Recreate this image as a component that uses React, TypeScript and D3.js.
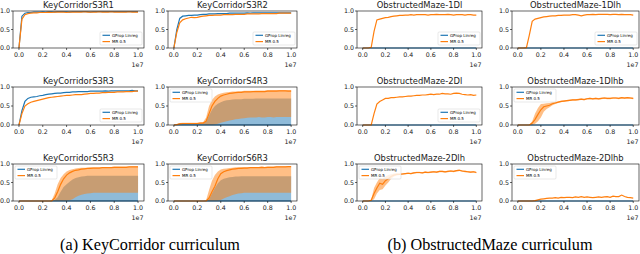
import React from 'react';
import * as d3 from 'd3';

// training steps, in units of 1e7
const steps = [0, 0.025, 0.05, 0.075, 0.1, 0.125, 0.15, 0.175, 0.2, 0.225, 0.25, 0.275, 0.3, 0.325, 0.35, 0.375, 0.4, 0.425, 0.45, 0.475, 0.5, 0.525, 0.55, 0.575, 0.6, 0.625, 0.65, 0.675, 0.7, 0.725, 0.75, 0.775, 0.8, 0.825, 0.85, 0.875, 0.9, 0.925, 0.95, 0.975, 1.0];
const xTicks = [0, 0.2, 0.4, 0.6, 0.8, 1.0];
const yTicks = [0, 0.5, 1.0];
const seriesNames = ['GProp Linreg', 'MR 0.5'];

const flatBlue = [0,0,0,0,0,0,0,0,0,0, 0,0,0,0,0,0,0,0,0,0, 0,0,0,0,0,0,0,0,0,0, 0,0,0,0,0,0,0,0,0,0, 0];

const s3r1Blue = [0, 0.86, 0.94, 0.96, 0.96, 0.97, 0.97, 0.97, 0.98, 0.97, 0.98, 0.98, 0.97, 0.98, 0.98, 0.98, 0.98, 0.97, 0.98, 0.98, 0.98, 0.98, 0.98, 0.98, 0.97, 0.98, 0.98, 0.98, 0.98, 0.98, 0.98, 0.98, 0.98, 0.98, 0.98, 0.98, 0.98, 0.98, 0.98, 0.98, 0.98];
const s3r1Orange = [0, 0.78, 0.9, 0.93, 0.94, 0.95, 0.95, 0.96, 0.96, 0.96, 0.97, 0.96, 0.97, 0.97, 0.97, 0.97, 0.96, 0.97, 0.97, 0.97, 0.97, 0.97, 0.98, 0.97, 0.97, 0.97, 0.97, 0.98, 0.97, 0.97, 0.97, 0.98, 0.97, 0.97, 0.97, 0.97, 0.97, 0.98, 0.97, 0.97, 0.97];

const s3r2Blue = [0, 0.5, 0.8, 0.86, 0.87, 0.88, 0.88, 0.89, 0.89, 0.9, 0.91, 0.91, 0.92, 0.92, 0.92, 0.93, 0.93, 0.93, 0.93, 0.94, 0.94, 0.94, 0.94, 0.94, 0.94, 0.95, 0.94, 0.95, 0.95, 0.95, 0.95, 0.95, 0.95, 0.95, 0.95, 0.95, 0.95, 0.95, 0.95, 0.95, 0.95];
const s3r2Orange = [0, 0.42, 0.68, 0.76, 0.79, 0.81, 0.83, 0.82, 0.83, 0.85, 0.86, 0.87, 0.88, 0.88, 0.89, 0.89, 0.89, 0.9, 0.9, 0.9, 0.9, 0.91, 0.91, 0.91, 0.91, 0.92, 0.92, 0.92, 0.92, 0.92, 0.93, 0.93, 0.93, 0.93, 0.93, 0.93, 0.94, 0.94, 0.94, 0.94, 0.94];

const s3r3Blue = [0, 0.38, 0.62, 0.7, 0.73, 0.74, 0.75, 0.77, 0.78, 0.8, 0.81, 0.82, 0.83, 0.84, 0.84, 0.85, 0.86, 0.86, 0.87, 0.87, 0.88, 0.88, 0.88, 0.88, 0.89, 0.89, 0.89, 0.89, 0.89, 0.9, 0.89, 0.9, 0.9, 0.9, 0.9, 0.9, 0.9, 0.9, 0.91, 0.9, 0.9];
const s3r3Orange = [0, 0.3, 0.5, 0.56, 0.6, 0.62, 0.64, 0.66, 0.68, 0.7, 0.72, 0.73, 0.74, 0.75, 0.76, 0.77, 0.78, 0.78, 0.79, 0.8, 0.8, 0.8, 0.81, 0.82, 0.83, 0.83, 0.84, 0.84, 0.85, 0.85, 0.86, 0.86, 0.86, 0.87, 0.87, 0.87, 0.88, 0.88, 0.88, 0.89, 0.89];

const s4r3Orange = [0, 0.01, 0.03, 0.04, 0.04, 0.04, 0.04, 0.04, 0.04, 0.05, 0.05, 0.1, 0.3, 0.5, 0.62, 0.7, 0.76, 0.79, 0.81, 0.83, 0.84, 0.85, 0.86, 0.86, 0.87, 0.87, 0.87, 0.88, 0.88, 0.88, 0.88, 0.88, 0.89, 0.89, 0.89, 0.89, 0.9, 0.9, 0.9, 0.89, 0.89];
const s4r3OrangeHi = [0, 0.02, 0.05, 0.06, 0.06, 0.06, 0.06, 0.06, 0.06, 0.07, 0.08, 0.2, 0.5, 0.66, 0.75, 0.8, 0.83, 0.85, 0.86, 0.87, 0.88, 0.88, 0.89, 0.89, 0.9, 0.9, 0.9, 0.9, 0.91, 0.91, 0.91, 0.91, 0.92, 0.92, 0.92, 0.92, 0.92, 0.92, 0.92, 0.92, 0.92];
const s4r3OrangeLo = [0, 0, 0.02, 0.02, 0.02, 0.02, 0.02, 0.02, 0.02, 0.02, 0.02, 0, 0, 0, 0.01, 0.03, 0.06, 0.08, 0.1, 0.12, 0.13, 0.15, 0.16, 0.17, 0.18, 0.19, 0.2, 0.2, 0.2, 0.21, 0.2, 0.2, 0.21, 0.21, 0.2, 0.21, 0.21, 0.21, 0.21, 0.21, 0.21];
const s4r3BlueHi = [0, 0.01, 0.05, 0.05, 0.05, 0.05, 0.05, 0.05, 0.05, 0.05, 0.05, 0.1, 0.25, 0.4, 0.5, 0.56, 0.6, 0.63, 0.65, 0.66, 0.67, 0.68, 0.68, 0.68, 0.69, 0.69, 0.69, 0.69, 0.7, 0.7, 0.7, 0.7, 0.7, 0.7, 0.7, 0.7, 0.7, 0.7, 0.7, 0.7, 0.7];

const s5r3Orange = [0,0,0,0,0,0,0,0,0,0, 0, 0, 0.08, 0.25, 0.45, 0.6, 0.7, 0.76, 0.8, 0.83, 0.84, 0.86, 0.87, 0.88, 0.88, 0.89, 0.89, 0.89, 0.9, 0.9, 0.9, 0.9, 0.91, 0.91, 0.91, 0.91, 0.91, 0.92, 0.92, 0.92, 0.92];
const s5r3OrangeHi = [0,0,0,0,0,0,0,0,0,0, 0, 0.02, 0.2, 0.45, 0.62, 0.72, 0.8, 0.84, 0.86, 0.88, 0.89, 0.9, 0.9, 0.9, 0.91, 0.91, 0.91, 0.91, 0.92, 0.92, 0.92, 0.92, 0.93, 0.93, 0.93, 0.93, 0.93, 0.93, 0.94, 0.94, 0.94];
const s5r3OrangeLo = [0,0,0,0,0,0,0,0,0,0, 0,0,0,0,0,0,0, 0.02, 0.05, 0.1, 0.14, 0.17, 0.19, 0.2, 0.21, 0.22, 0.22, 0.22, 0.22, 0.22, 0.22, 0.22, 0.22, 0.22, 0.22, 0.22, 0.22, 0.22, 0.22, 0.22, 0.22];
const s5r3BlueHi = [0,0,0,0,0,0,0,0,0,0, 0, 0, 0.03, 0.1, 0.25, 0.38, 0.45, 0.52, 0.58, 0.62, 0.64, 0.66, 0.67, 0.68, 0.68, 0.68, 0.68, 0.68, 0.68, 0.68, 0.68, 0.68, 0.68, 0.68, 0.68, 0.68, 0.68, 0.68, 0.68, 0.68, 0.68];

const s6r3Orange = [0,0,0,0,0,0,0,0,0,0, 0, 0, 0.08, 0.25, 0.4, 0.6, 0.74, 0.79, 0.82, 0.84, 0.86, 0.87, 0.88, 0.88, 0.89, 0.89, 0.9, 0.9, 0.9, 0.9, 0.91, 0.9, 0.91, 0.91, 0.91, 0.92, 0.92, 0.92, 0.92, 0.93, 0.93];
const s6r3OrangeHi = [0,0,0,0,0,0,0,0,0,0, 0, 0.02, 0.3, 0.55, 0.7, 0.8, 0.85, 0.87, 0.88, 0.89, 0.9, 0.91, 0.91, 0.92, 0.92, 0.92, 0.92, 0.92, 0.92, 0.92, 0.93, 0.92, 0.93, 0.93, 0.93, 0.94, 0.94, 0.94, 0.94, 0.94, 0.94];
const s6r3OrangeLo = [0,0,0,0,0,0,0,0,0,0, 0,0,0,0,0,0, 0.03, 0.07, 0.1, 0.13, 0.16, 0.18, 0.2, 0.21, 0.22, 0.22, 0.22, 0.22, 0.22, 0.22, 0.22, 0.22, 0.22, 0.22, 0.22, 0.22, 0.22, 0.22, 0.22, 0.22, 0.22];
const s6r3BlueHi = [0,0,0,0,0,0,0,0,0,0, 0, 0, 0.05, 0.2, 0.35, 0.48, 0.56, 0.6, 0.62, 0.64, 0.65, 0.66, 0.66, 0.67, 0.67, 0.67, 0.67, 0.67, 0.67, 0.67, 0.67, 0.67, 0.67, 0.67, 0.67, 0.67, 0.67, 0.67, 0.67, 0.67, 0.67];

const om1DlOrange = [0, 0, 0, 0.02, 0.45, 0.76, 0.78, 0.8, 0.82, 0.83, 0.85, 0.86, 0.87, 0.88, 0.88, 0.89, 0.89, 0.9, 0.89, 0.9, 0.9, 0.9, 0.9, 0.89, 0.9, 0.9, 0.91, 0.9, 0.9, 0.9, 0.91, 0.9, 0.89, 0.9, 0.9, 0.9, 0.89, 0.9, 0.9, 0.89, 0.89];
const om1DlhOrange = [0, 0, 0, 0.01, 0.35, 0.72, 0.78, 0.8, 0.82, 0.84, 0.85, 0.86, 0.87, 0.87, 0.88, 0.88, 0.89, 0.89, 0.89, 0.9, 0.9, 0.89, 0.87, 0.89, 0.9, 0.9, 0.91, 0.9, 0.91, 0.91, 0.91, 0.91, 0.9, 0.91, 0.91, 0.9, 0.91, 0.9, 0.9, 0.9, 0.89];
const om2DlOrange = [0, 0, 0, 0, 0.3, 0.55, 0.62, 0.66, 0.7, 0.7, 0.72, 0.72, 0.73, 0.74, 0.74, 0.75, 0.76, 0.76, 0.77, 0.78, 0.78, 0.79, 0.79, 0.8, 0.81, 0.8, 0.81, 0.81, 0.83, 0.82, 0.82, 0.81, 0.83, 0.84, 0.83, 0.81, 0.8, 0.79, 0.8, 0.78, 0.79];
const om1DlhbOrange = [0, 0, 0, 0, 0, 0.05, 0.15, 0.28, 0.4, 0.48, 0.5, 0.52, 0.56, 0.58, 0.6, 0.62, 0.63, 0.64, 0.65, 0.66, 0.66, 0.67, 0.68, 0.67, 0.69, 0.7, 0.69, 0.7, 0.69, 0.7, 0.71, 0.7, 0.7, 0.71, 0.71, 0.7, 0.72, 0.71, 0.72, 0.71, 0.7];
const om1DlhbLo = [0, 0, 0, 0, 0, 0, 0.03, 0.1, 0.2, 0.35, 0.42, 0.47, 0.52, 0.55, 0.58, 0.6, 0.61, 0.62, 0.63, 0.64, 0.64, 0.65, 0.66, 0.65, 0.67, 0.68, 0.67, 0.68, 0.67, 0.68, 0.69, 0.68, 0.68, 0.69, 0.69, 0.68, 0.7, 0.69, 0.7, 0.69, 0.68];
const om1DlhbHi = [0, 0, 0, 0, 0, 0.1, 0.3, 0.45, 0.55, 0.56, 0.57, 0.58, 0.6, 0.61, 0.62, 0.64, 0.65, 0.66, 0.67, 0.68, 0.68, 0.69, 0.7, 0.69, 0.71, 0.72, 0.71, 0.72, 0.71, 0.72, 0.73, 0.72, 0.72, 0.73, 0.73, 0.72, 0.74, 0.73, 0.74, 0.73, 0.72];
const om2DlhOrange = [0, 0, 0, 0.02, 0.2, 0.35, 0.48, 0.45, 0.55, 0.6, 0.66, 0.7, 0.72, 0.72, 0.73, 0.74, 0.75, 0.74, 0.76, 0.77, 0.77, 0.76, 0.78, 0.77, 0.78, 0.79, 0.78, 0.8, 0.8, 0.79, 0.8, 0.81, 0.8, 0.82, 0.83, 0.81, 0.8, 0.79, 0.78, 0.79, 0.77];
const om2DlhLo = [0, 0, 0, 0, 0.05, 0.2, 0.3, 0.32, 0.42, 0.5, 0.6, 0.66, 0.69, 0.7, 0.71, 0.72, 0.73, 0.72, 0.74, 0.75, 0.75, 0.74, 0.76, 0.75, 0.76, 0.77, 0.76, 0.78, 0.78, 0.77, 0.78, 0.79, 0.78, 0.8, 0.81, 0.79, 0.78, 0.77, 0.76, 0.77, 0.75];
const om2DlhHi = [0, 0, 0, 0.04, 0.35, 0.5, 0.62, 0.6, 0.66, 0.7, 0.72, 0.74, 0.75, 0.74, 0.75, 0.76, 0.77, 0.76, 0.78, 0.79, 0.79, 0.78, 0.8, 0.79, 0.8, 0.81, 0.8, 0.82, 0.82, 0.81, 0.82, 0.83, 0.82, 0.84, 0.85, 0.83, 0.82, 0.81, 0.8, 0.81, 0.79];
const om2DlhbOrange = [0, 0, 0, 0, 0, 0, 0.01, 0.03, 0.05, 0.06, 0.07, 0.08, 0.08, 0.09, 0.08, 0.1, 0.09, 0.1, 0.1, 0.09, 0.11, 0.1, 0.12, 0.1, 0.11, 0.1, 0.09, 0.1, 0.11, 0.1, 0.11, 0.12, 0.1, 0.13, 0.12, 0.12, 0.16, 0.12, 0.1, 0.09, 0.08];

const BLUE = '#1f77b4';
const ORANGE = '#ff7f0e';
const COLS = [{ x0: 13, x1: 144 }, { x0: 168, x1: 297 }, { x0: 357, x1: 482 }, { x0: 512, x1: 639 }];
const ROWS = [{ y0: 11, y1: 48 }, { y0: 87, y1: 125 }, { y0: 164, y1: 201 }];

type Band = { lo: number[]; hi: number[]; color: string };
type P = { title: string; col: number; row: number; blue: number[]; orange: number[]; bands: Band[]; legend: 'lr' | 'ul' };

const panels: P[] = [
  { title: 'KeyCorridorS3R1', col: 0, row: 0, blue: s3r1Blue, orange: s3r1Orange, bands: [], legend: 'lr' },
  { title: 'KeyCorridorS3R2', col: 1, row: 0, blue: s3r2Blue, orange: s3r2Orange, bands: [], legend: 'lr' },
  { title: 'KeyCorridorS3R3', col: 0, row: 1, blue: s3r3Blue, orange: s3r3Orange, bands: [], legend: 'lr' },
  { title: 'KeyCorridorS4R3', col: 1, row: 1, blue: flatBlue, orange: s4r3Orange, bands: [{ lo: flatBlue, hi: s4r3BlueHi, color: BLUE }, { lo: s4r3OrangeLo, hi: s4r3OrangeHi, color: ORANGE }], legend: 'ul' },
  { title: 'KeyCorridorS5R3', col: 0, row: 2, blue: flatBlue, orange: s5r3Orange, bands: [{ lo: flatBlue, hi: s5r3BlueHi, color: BLUE }, { lo: s5r3OrangeLo, hi: s5r3OrangeHi, color: ORANGE }], legend: 'ul' },
  { title: 'KeyCorridorS6R3', col: 1, row: 2, blue: flatBlue, orange: s6r3Orange, bands: [{ lo: flatBlue, hi: s6r3BlueHi, color: BLUE }, { lo: s6r3OrangeLo, hi: s6r3OrangeHi, color: ORANGE }], legend: 'ul' },
  { title: 'ObstructedMaze-1Dl', col: 2, row: 0, blue: flatBlue, orange: om1DlOrange, bands: [], legend: 'lr' },
  { title: 'ObstructedMaze-1Dlh', col: 3, row: 0, blue: flatBlue, orange: om1DlhOrange, bands: [], legend: 'lr' },
  { title: 'ObstructedMaze-2Dl', col: 2, row: 1, blue: flatBlue, orange: om2DlOrange, bands: [], legend: 'lr' },
  { title: 'ObstructedMaze-1Dlhb', col: 3, row: 1, blue: flatBlue, orange: om1DlhbOrange, bands: [{ lo: om1DlhbLo, hi: om1DlhbHi, color: ORANGE }], legend: 'ul' },
  { title: 'ObstructedMaze-2Dlh', col: 2, row: 2, blue: flatBlue, orange: om2DlhOrange, bands: [{ lo: om2DlhLo, hi: om2DlhHi, color: ORANGE }], legend: 'ul' },
  { title: 'ObstructedMaze-2Dlhb', col: 3, row: 2, blue: flatBlue, orange: om2DlhbOrange, bands: [], legend: 'ul' },
];

const FONT = 'DejaVu Sans, sans-serif';

function Panel({ p, idx }: { p: P; idx: number }) {
  const c = COLS[p.col];
  const r = ROWS[p.row];
  const x = d3.scaleLinear().domain([-0.05, 1.05]).range([c.x0, c.x1]);
  const y = d3.scaleLinear().domain([0, 1]).range([r.y1, r.y0]);
  const line = d3.line<number>().x((_, i) => x(steps[i])).y((d) => y(d));
  const area = (b: Band) =>
    d3.area<number>().x((d) => x(d)).y0((_, i) => y(b.lo[i])).y1((_, i) => y(b.hi[i]))(steps) || '';
  const clipId = `clip${idx}`;
  const lw = 42, lh = 13;
  const lx = p.legend === 'lr' ? c.x1 - 2 - lw : c.x0 + 2;
  const ly = p.legend === 'lr' ? r.y1 - 3 - lh : r.y0 + 2;
  return (
    <g>
      <defs>
        <clipPath id={clipId}>
          <rect x={c.x0} y={r.y0 - 1} width={c.x1 - c.x0} height={r.y1 - r.y0 + 2} />
        </clipPath>
      </defs>
      <text x={(c.x0 + c.x1) / 2} y={r.y0 - 3.5} textAnchor="middle" fontSize={8.4} fontFamily={FONT} fill="#1a1a1a">{p.title}</text>
      <g clipPath={`url(#${clipId})`}>
        {p.bands.map((b, i) => (
          <path key={i} d={area(b)} fill={b.color} fillOpacity={0.5} stroke="none" />
        ))}
        <path d={line(p.blue) || ''} fill="none" stroke={BLUE} strokeWidth={1.2} />
        <path d={line(p.orange) || ''} fill="none" stroke={ORANGE} strokeWidth={1.2} />
      </g>
      <rect x={c.x0} y={r.y0} width={c.x1 - c.x0} height={r.y1 - r.y0} fill="none" stroke="#000" strokeWidth={0.6} />
      {yTicks.map((t) => (
        <g key={`y${t}`}>
          <line x1={c.x0 - 2} x2={c.x0} y1={y(t)} y2={y(t)} stroke="#000" strokeWidth={0.6} />
          <text x={c.x0 - 3} y={y(t)} dy="0.35em" textAnchor="end" fontSize={6.3} fontFamily={FONT} fill="#1a1a1a">{t.toFixed(1)}</text>
        </g>
      ))}
      {xTicks.map((t) => (
        <g key={`x${t}`}>
          <line x1={x(t)} x2={x(t)} y1={r.y1} y2={r.y1 + 2} stroke="#000" strokeWidth={0.6} />
          <text x={x(t)} y={r.y1 + 9.3} textAnchor="middle" fontSize={6.3} fontFamily={FONT} fill="#1a1a1a">{t.toFixed(1)}</text>
        </g>
      ))}
      <text x={c.x1 - 0.5} y={r.y1 + 19.3} textAnchor="end" fontSize={6.3} fontFamily={FONT} fill="#1a1a1a">1e7</text>
      <g>
        <rect x={lx} y={ly} width={lw} height={lh} rx={1} fill="#fff" fillOpacity={0.8} stroke="#d0d0d0" strokeWidth={0.5} />
        {[BLUE, ORANGE].map((col, i) => (
          <g key={col}>
            <line x1={lx + 2.5} x2={lx + 10} y1={ly + 3.3 + i * 6.3} y2={ly + 3.3 + i * 6.3} stroke={col} strokeWidth={1.2} />
            <text x={lx + 12} y={ly + 3.3 + i * 6.3} dy="0.35em" fontSize={4} fontFamily={FONT} fill="#000">{seriesNames[i]}</text>
          </g>
        ))}
      </g>
    </g>
  );
}

export default function App() {
  return (
    <svg width={640} height={254} style={{ position: 'absolute', left: 0, top: 0, background: '#fff' }}>
      <rect x={0} y={0} width={640} height={254} fill="#fff" />
      {panels.map((p, i) => (
        <Panel key={p.title} p={p} idx={i} />
      ))}
      <text x={150} y={250} textAnchor="middle" fontSize={16.2} fontFamily="Liberation Serif, serif" fill="#000">(a) KeyCorridor curriculum</text>
      <text x={490} y={250} textAnchor="middle" fontSize={16.2} fontFamily="Liberation Serif, serif" fill="#000">(b) ObstructedMaze curriculum</text>
    </svg>
  );
}
